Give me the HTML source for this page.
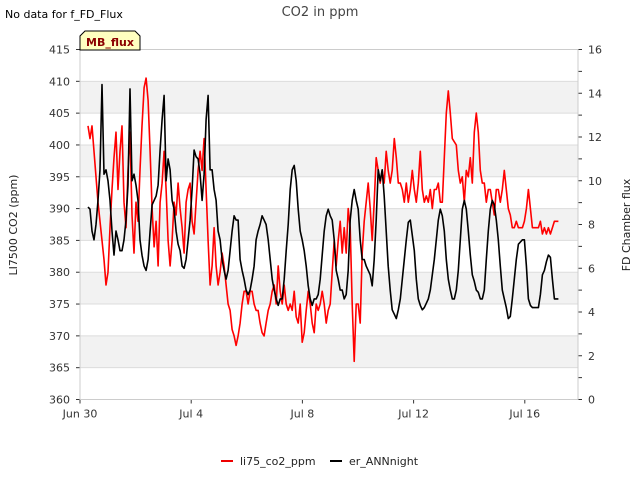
<!DOCTYPE html>
<html><head><meta charset="utf-8"><style>
body{margin:0;background:#fff;font-family:"Liberation Sans","DejaVu Sans",sans-serif}
svg text{font-family:"DejaVu Sans","Liberation Sans",sans-serif}
</style></head><body>
<svg id="c" width="640" height="480" xmlns="http://www.w3.org/2000/svg">
<rect width="640" height="480" fill="#fff"/>
<g id="bands"></g>
<g id="axes"></g>
<g id="series"></g>
<text x="5" y="18" font-size="11" fill="#000">No data for f_FD_Flux</text>
<text x="320" y="16" font-size="13" fill="#444" text-anchor="middle">CO2 in ppm</text>
<g>
<path d="M80,50 L80,36 L85,31 L135,31 L140,36 L140,50 Z" fill="#ffffc0" stroke="#000" stroke-width="1"/>
<text x="110" y="46" font-size="11" font-weight="bold" fill="#8b0000" text-anchor="middle">MB_flux</text>
</g>
<text transform="translate(17,225) rotate(-90)" font-size="11" fill="#222" text-anchor="middle">LI7500 CO2 (ppm)</text>
<text transform="translate(630,225) rotate(-90)" font-size="11" fill="#222" text-anchor="middle">FD Chamber flux</text>
<g>
<g><line x1="221" y1="461" x2="233" y2="461" stroke="#e00" stroke-width="2"/><text x="240" y="465" font-size="11" fill="#222">li75_co2_ppm</text></g>
<g><line x1="330" y1="461" x2="342" y2="461" stroke="#000" stroke-width="2"/><text x="349" y="465" font-size="11" fill="#222">er_ANNnight</text></g>
</g>
</svg>
<script>
const xTickLabels=["Jun 30","Jul 4","Jul 8","Jul 12","Jul 16"];
const xTickDays=[0,4,8,12,16];
const leftTicks=[360,365,370,375,380,385,390,395,400,405,410,415];
const rightTicks=[0,2,4,6,8,10,12,14,16];
const seriesStartDay=0.288;
const seriesStepDay=0.072;
const co2Values=[403,401,403,399,395,391,388,385,382,378,380,387,393,398,402,393,399,403,391,387,396,402,389,383,391,388,396,403,409,410.5,407,399,390,384,388,381,391,394,399,393,385,381,385,391,389,394,390,387,383,391,393,394,388,386,391,396,399,396,401,393,385,378,381,387,381,378,380,383,381,378,375,374,371,370,368.5,370,372,375,377,377,375,377,377,375,374,374,372,370.5,370,372,374,375,377,378,375,381,377,375,378,375,374,375,374,377,373,372,375,369,370.5,374,377,375,372,370.5,375,374,375,377,375,372,374,375,380,385,381,385,388,383,387,383,390,387,375,366,375,375,372,383,388,391,394,390,385,391,398,396,394,396,394,399,396,394,396,401,398,394,394,393,391,394,391,393,396,393,391,394,399,393,391,392,391,393,390,393,393,394,391,391,398,405,408.5,405,401,400.5,400,396,394,395,391,396,395,398,394,402,405,402,396,394,394,391,393,393,391,389,393,393,391,393,396,393,390,389,387,387,388,387,387,387,388,390,393,390,387,387,387,387,388,386,387,386,387,386,387,388,388,388];
const annValues=[8.8,8.7,7.7,7.3,8,9.1,10.5,14.4,10.3,10.5,10,9.1,7.7,6.6,7.7,7.3,6.8,6.8,7.3,8.2,9.8,14.2,10,10.3,9.8,9.1,7.3,6.6,6.1,5.9,6.4,7.7,8.9,9.1,9.3,9.8,11.4,12.8,13.9,10,11,10.5,9.1,8.7,7.7,7.1,6.8,6.1,6,6.4,7.3,8.2,9.6,11.4,11.1,11,10.3,9.1,10.3,12.8,13.9,10.5,10.5,9.6,9.1,7.7,7.3,6.4,5.9,5.5,5.9,6.8,7.7,8.4,8.2,8.2,6.4,5.9,5.5,5,4.8,5,5.5,6.1,7.3,7.7,8,8.4,8.2,8,7.3,6.4,5.5,5,4.6,4.3,4.6,4.6,5.5,6.8,8,9.6,10.5,10.7,10,8.7,7.7,7.3,6.8,6.1,5.2,4.6,4.3,4.6,4.6,4.8,5.5,6.6,7.7,8.4,8.7,8.4,8.2,7.3,5.9,5.5,5,5,4.6,4.8,5.9,8.2,9.1,9.6,9.1,8.7,7.3,6.4,6.4,6.1,5.9,5.7,5.2,6.4,8.2,10.5,10,10.5,9.3,7.7,6.1,5,4.1,3.9,3.7,4.1,4.6,5.5,6.4,7.3,8.1,8.2,7.5,6.8,5.5,4.6,4.3,4.1,4.2,4.4,4.6,5,5.7,6.4,7.3,8.2,8.7,8.4,7.7,6.4,5.5,5,4.6,4.6,5,5.9,7.3,8.7,9.1,8.7,7.7,6.6,5.7,5.4,5,4.9,4.6,4.6,5,6.4,7.7,8.7,9.1,8.9,8.2,7.3,6.1,5,4.6,4.2,3.7,3.8,4.6,5.5,6.4,7.1,7.2,7.3,7.3,6.1,4.6,4.3,4.2,4.2,4.2,4.2,4.8,5.7,5.9,6.3,6.6,6.5,5.5,4.6,4.6,4.6];

const L=80,R=578,T=49.5,B=399.5,NS="http://www.w3.org/2000/svg";
const xS=d=>L+d*27.8;
const yL=v=>T+(415-v)*(B-T)/55;
const yR=v=>T+(16-v)*(B-T)/16;
function mk(tag,attrs,parent){const e=document.createElementNS(NS,tag);for(const k in attrs)e.setAttribute(k,attrs[k]);parent.appendChild(e);return e;}
const bands=document.getElementById('bands'),axes=document.getElementById('axes'),series=document.getElementById('series');
for(let v=365;v<415;v+=10){
 const r=mk('rect',{x:L,y:yL(v+5),width:R-L,height:yL(v)-yL(v+5),fill:'#f2f2f2'},bands);
 
 
}
leftTicks.forEach(v=>{
 const g=mk('line',{x1:L,x2:R,y1:yL(v),y2:yL(v),stroke:'#dcdcdc','stroke-width':1},bands);
 
 
 mk('line',{x1:L-4,x2:L,y1:yL(v),y2:yL(v),stroke:'#333'},axes);
 const t=mk('text',{x:L-10,y:yL(v)+4,'font-size':11,fill:'#333','text-anchor':'end'},axes);
 t.textContent=v;
 
 
});
for(let v=0;v<=16;v++){
 mk('line',{x1:R,x2:R+4,y1:yR(v),y2:yR(v),stroke:'#333'},axes);
}
rightTicks.forEach(v=>{
 const t=mk('text',{x:R+10,y:yR(v)+4,'font-size':11,fill:'#333'},axes);
 t.textContent=v;
 
 
});
xTickDays.forEach((d,i)=>{
 mk('line',{x1:xS(d),x2:xS(d),y1:B,y2:B+4,stroke:'#333'},axes);
 const t=mk('text',{x:xS(d),y:B+18,'font-size':11,fill:'#333','text-anchor':'middle'},axes);
 t.textContent=xTickLabels[i];
 
 
});
mk('rect',{x:L,y:T,width:R-L,height:B-T,fill:'none',stroke:'#ccc'},axes);
function line(vals,yf,color,name){
 const pts=vals.map((v,i)=>xS(seriesStartDay+i*seriesStepDay).toFixed(1)+','+yf(v).toFixed(1)).join(' ');
 const p=mk('polyline',{points:pts,fill:'none',stroke:color,'stroke-width':1.6,'stroke-linejoin':'round'},series);
 
 
}
line(co2Values,yL,'#f00','li75-co2-line');
line(annValues,yR,'#000','er-annnight-line');
</script>
</body></html>
